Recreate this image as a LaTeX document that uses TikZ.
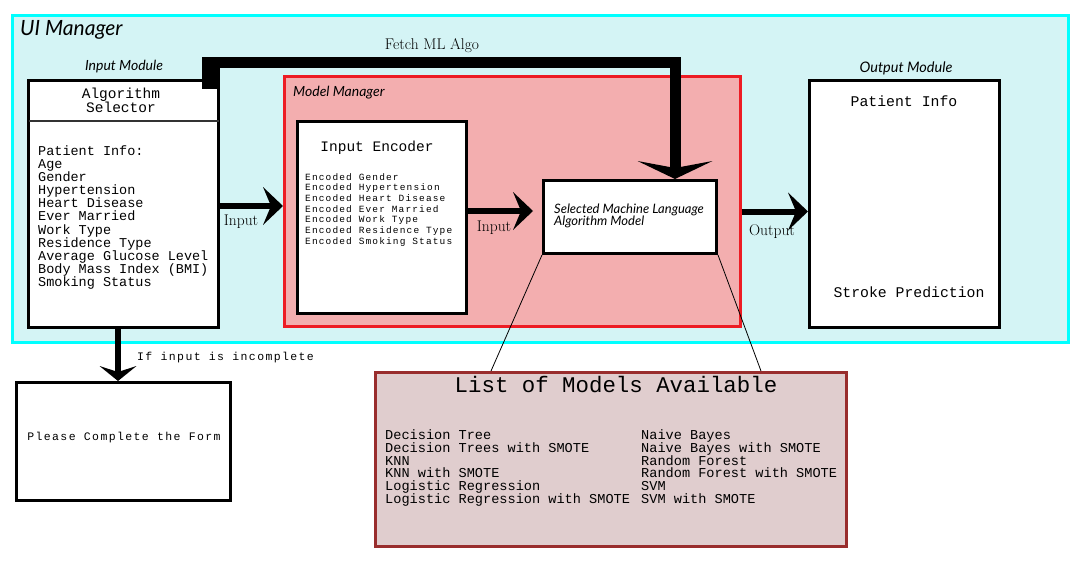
\documentclass[tikz,border=0pt]{standalone}
\usepackage{fontspec}
\usetikzlibrary{arrows.meta}
\newfontfamily\pixfont{Liberation Mono}
\newfontfamily\pixwide{Liberation Mono}[LetterSpace=12]
\newfontfamily\handfont{Lato}
\definecolor{uifill}{RGB}{212,244,245}
\definecolor{uiborder}{RGB}{0,255,255}
\definecolor{mmfill}{RGB}{243,174,175}
\definecolor{mmborder}{RGB}{237,28,36}
\definecolor{lstfill}{RGB}{224,205,206}
\definecolor{lstborder}{RGB}{153,45,45}
\tikzset{
  container/.style={draw, line width=3pt, rectangle, inner sep=0pt},
  box/.style={container, draw=black, fill=white},
  hand/.style={inner sep=0pt, font={\handfont\itshape\fontsize{#1}{#1}\selectfont}},
  serif/.style={inner sep=0pt, font={\fontsize{15.5}{15.5}\selectfont}},
  flow/.style={line width=6pt, -{Stealth[length=20pt,width=38pt,inset=8pt,line width=0pt]}},
  flowdown/.style={line width=6pt, -{Stealth[length=15pt,width=37pt,inset=6pt,line width=0pt]}},
  fetchline/.style={line width=11pt, line join=miter, -{Stealth[length=18pt,width=75pt,inset=7pt,line width=0pt]}},
  leader/.style={line width=0.8pt},
}
\begin{document}
\begin{tikzpicture}[x=1pt,y=-1pt]
\useasboundingbox[fill=white] (0,0) rectangle (1080,576);
% containers and boxes
\node[container, draw=uiborder, fill=uifill, minimum width=1056pt, minimum height=327pt] (ui) at (540.5,179) {};
\node[hand=21, anchor=west] (uilabel) at (20,30) {UI Manager};
\node[box, minimum width=190pt, minimum height=247pt] (algsel) at (123.5,204) {};
\node[hand=14, anchor=center] (inmodlabel) at (124,67) {Input Module};
\draw[line width=1.3pt, black!80] ([xshift=1.5pt]algsel.west |- 0,121) -- ([xshift=-1.5pt]algsel.east |- 0,121);
\node[inner sep=0pt, align=center, font={\pixfont\fontsize{14.5}{14}\selectfont}] (algtitle) at (121,100) {Algorithm\\Selector};
\node[inner sep=0pt, anchor=north west, align=left, font={\pixfont\fontsize{13.5}{13.1}\selectfont}] (alglist) at (38,145.5)
  {Patient Info:\\Age\\Gender\\Hypertension\\Heart Disease\\Ever Married\\Work Type\\Residence Type\\Average Glucose Level\\Body Mass Index (BMI)\\Smoking Status};

\node[container, draw=mmborder, fill=mmfill, minimum width=456pt, minimum height=250pt] (mm) at (512.5,201.5) {};
\node[hand=14, anchor=west] (mmlabel) at (293,93) {Model Manager};
\node[box, minimum width=169pt, minimum height=192pt] (enc) at (382,217.5) {};
\node[inner sep=0pt, font={\pixfont\fontsize{14.5}{14}\selectfont}] (enctitle) at (377,148) {Input Encoder};
\node[inner sep=0pt, anchor=north west, align=left, font={\pixwide\fontsize{9.5}{10.67}\selectfont}] (enclist) at (305,173)
  {Encoded Gender\\Encoded Hypertension\\Encoded Heart Disease\\Encoded Ever Married\\Encoded Work Type\\Encoded Residence Type\\Encoded Smoking Status};
\node[box, minimum width=173pt, minimum height=73pt] (sel) at (630,217) {};
\node[inner sep=0pt, anchor=north west, align=left, font={\handfont\itshape\fontsize{13}{12.5}\selectfont}] (seltext) at (554,203.5) {Selected Machine Language\\Algorithm Model};

\node[box, minimum width=190pt, minimum height=247pt] (out) at (904.5,204) {};
\node[hand=14.5, anchor=center] (outmodlabel) at (906,68) {Output Module};
\node[inner sep=0pt, font={\pixfont\fontsize{14.8}{14}\selectfont}] (outinfo) at (904,101) {Patient Info};
\node[inner sep=0pt, font={\pixfont\fontsize{14.8}{14}\selectfont}] (outpred) at (909,292) {Stroke Prediction};

\node[box, minimum width=214pt, minimum height=118pt] (please) at (123.5,441.5) {};
\node[inner sep=0pt, font={\pixwide\fontsize{11.5}{12}\selectfont}] (pleasetext) at (124,438) {Please Complete the Form};

\node[container, draw=lstborder, fill=lstfill, minimum width=471pt, minimum height=174pt] (list) at (611,459.5) {};
\node[inner sep=0pt, font={\pixfont\fontsize{22.4}{22}\selectfont}] (listtitle) at (616,385) {List of Models Available};
\node[inner sep=0pt, anchor=north west, align=left, font={\pixfont\fontsize{13.6}{12.8}\selectfont}] (listcol1) at (385,429.5)
  {Decision Tree\\Decision Trees with SMOTE\\KNN\\KNN with SMOTE\\Logistic Regression\\Logistic Regression with SMOTE};
\node[inner sep=0pt, anchor=north west, align=left, font={\pixfont\fontsize{13.6}{12.8}\selectfont}] (listcol2) at (641,429.5)
  {Naive Bayes\\Naive Bayes with SMOTE\\Random Forest\\Random Forest with SMOTE\\SVM\\SVM with SMOTE};

% leader lines
\draw[leader] (sel.south west) -- (list.north -| 491,0);
\draw[leader] (sel.south east) -- (list.north -| 761,0);

% connectors
\draw[flow] (algsel.east |- 0,206) -- (mm.west |- 0,206);
\node[serif, anchor=center] (inlabel1) at (241,222) {Input};
\draw[flow, shorten >=9pt] (enc.east |- 0,211) -- (sel.west |- 0,211);
\node[serif, anchor=center] (inlabel2) at (494,228) {Input};
\draw[flow] (mm.east |- 0,211.5) -- (out.west |- 0,211.5);
\node[serif, anchor=center] (outlabel) at (772,232) {Output};
\draw[flowdown] (algsel.south -| 118,0) -- (please.north -| 118,0);
\node[inner sep=0pt, anchor=west, font={\pixwide\fontsize{11.5}{12}\selectfont}] (incomplete) at (137,358) {If input is incomplete};

% fetch connector
\coordinate (fstart) at (211,89);
\coordinate (fturn) at (675,62);
\fill (202,57) rectangle (220,89);
\draw[fetchline] (fstart) |- (fturn) -- (fturn |- sel.north);
\node[serif, anchor=center] (fetchlabel) at (432,46) {Fetch ML Algo};
\end{tikzpicture}
\end{document}
